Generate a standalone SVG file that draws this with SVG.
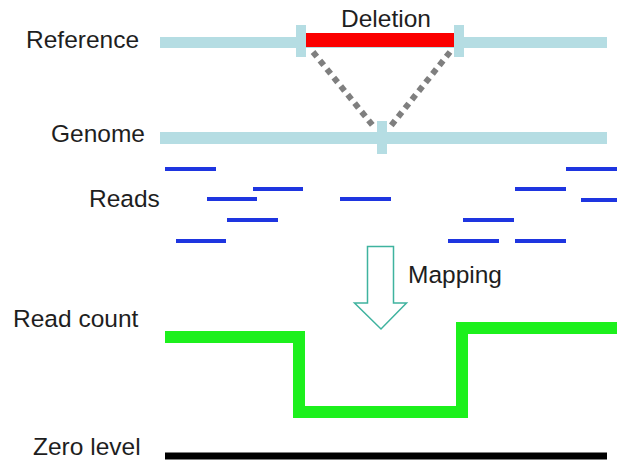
<svg xmlns="http://www.w3.org/2000/svg" width="617" height="464" viewBox="0 0 617 464">
<style>
text{font-family:"Liberation Sans",Arial,sans-serif;font-size:24.5px;fill:#1e1e1e}
.seq{fill:#b5dde3}
.read{stroke:#1e35e0;stroke-width:4;stroke-linecap:butt}
.dot{stroke:#7f7f7f;stroke-width:6;stroke-dasharray:6 5;fill:none}
</style>
<rect width="617" height="464" fill="#ffffff"/>
<g id="labels">
<text x="26" y="48">Reference</text>
<text x="51" y="142">Genome</text>
<text x="89" y="207">Reads</text>
<text x="13" y="327">Read count</text>
<text x="33" y="455">Zero level</text>
</g>
<g id="reference">
<rect class="seq" x="160" y="37" width="447" height="11"/>
<rect class="seq" x="296" y="25" width="10" height="32"/>
<rect class="seq" x="454" y="25" width="10" height="32"/>
</g>
<g id="deletion">
<rect x="306" y="33" width="148" height="14" fill="#fb0000"/>
<text x="341" y="27">Deletion</text>
</g>
<g id="genome">
<rect class="seq" x="160" y="132" width="447" height="12"/>
<rect class="seq" x="377" y="121" width="10" height="33"/>
</g>
<g id="connectors">
<line class="dot" x1="313" y1="52" x2="374" y2="127"/>
<line class="dot" x1="450" y1="52" x2="390" y2="127"/>
</g>
<g id="reads">
<line class="read" x1="165" y1="169" x2="216" y2="169"/>
<line class="read" x1="253" y1="189" x2="303" y2="189"/>
<line class="read" x1="207" y1="199" x2="257" y2="199"/>
<line class="read" x1="340" y1="199" x2="391" y2="199"/>
<line class="read" x1="227" y1="220" x2="278" y2="220"/>
<line class="read" x1="176" y1="241" x2="226" y2="241"/>
<line class="read" x1="566" y1="169" x2="617" y2="169"/>
<line class="read" x1="515" y1="189" x2="566" y2="189"/>
<line class="read" x1="581" y1="200" x2="617" y2="200"/>
<line class="read" x1="463" y1="220" x2="514" y2="220"/>
<line class="read" x1="448" y1="241" x2="499" y2="241"/>
<line class="read" x1="515" y1="241" x2="566" y2="241"/>
</g>
<g id="mapping">
<path d="M367.5,246.5 H393.5 V303 H406.5 L381,329 L354.5,303 H367.5 Z" fill="none" stroke="#3fb39f" stroke-width="1.5"/>
<text x="408" y="283">Mapping</text>
</g>
<g id="readcount">
<polyline points="165,337 299,337 299,412 462,412 462,328 617,328" fill="none" stroke="#1cf01c" stroke-width="12"/>
</g>
<g id="zero">
<line x1="165" y1="456" x2="607" y2="456" stroke="#000" stroke-width="7"/>
</g>
</svg>
